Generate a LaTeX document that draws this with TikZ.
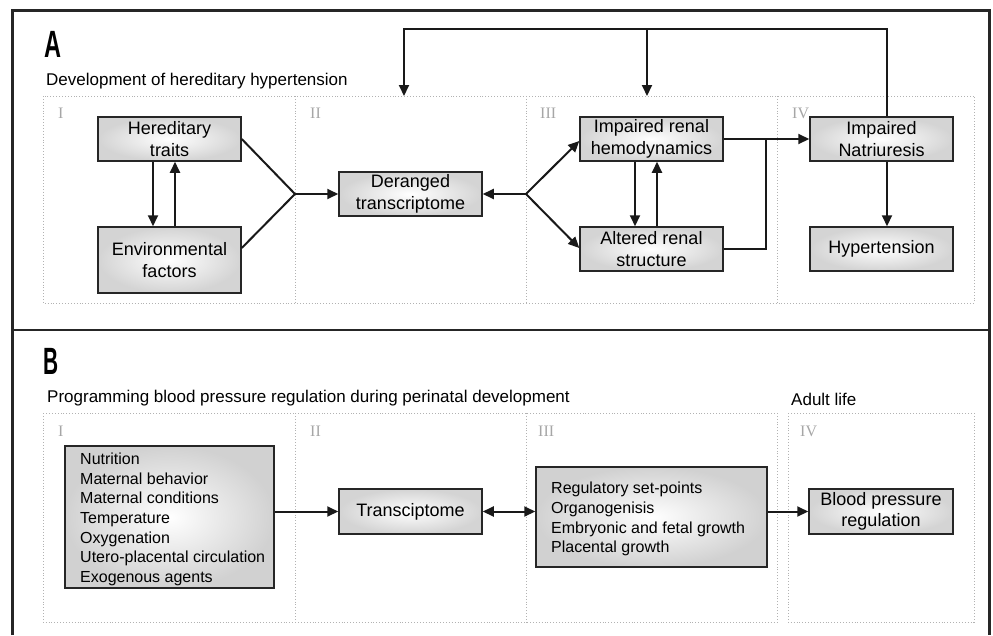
\documentclass[tikz,border=0pt]{standalone}
\usepackage{fontspec}
\setmainfont{Liberation Sans}
\newfontfamily\romfont{Liberation Serif}
\usetikzlibrary{arrows.meta,calc}
\begin{document}
\begin{tikzpicture}[x=1pt,y=-1pt,
  box/.style={draw=black!85, line width=1.5pt, inner color=white, outer color=black!17,
    minimum width=143pt, minimum height=44pt, align=center,
    font=\fontsize{18}{21.5}\selectfont, inner sep=2pt},
  listbox/.style={draw=black!85, line width=1.5pt, inner color=white, outer color=black!18,
    inner sep=0pt},
  listtext/.style={align=left, font=\fontsize{16}{19.7}\selectfont, inner sep=0pt, anchor=north west},
  conn/.style={line width=2pt, draw=black!90},
  arr/.style={conn, -{Triangle[length=11pt,width=10pt]}},
  darr/.style={conn, {Triangle[length=11pt,width=10pt]}-{Triangle[length=11pt,width=10pt]}},
  zone/.style={draw=black!30, dotted, line width=0.9pt},
  roman/.style={text=black!35, font=\romfont\fontsize{16}{16}\selectfont, anchor=base west, inner sep=0pt},
  title/.style={anchor=base west, inner sep=0pt, font=\fontsize{17}{17}\selectfont},
  panel/.style={anchor=base west, inner sep=0pt, font=\bfseries\fontsize{38}{38}\selectfont}
  ]
\useasboundingbox (0,0) rectangle (993,635);
% outer frame
\draw[line width=3pt, black!85] (12,635) -- (12,10) -- (989,10) -- (989,635);
\draw[line width=2.5pt, black!85] (12,330) -- (989,330);

% ---------- Panel A ----------
\node[panel] (la) at (44,57) {\scalebox{0.62}[1]{A}};
\node[title] (ta) at (46,85) {Development of hereditary hypertension};
\draw[zone] (43,96) rectangle (974,303);
\draw[zone] (295,96) -- (295,303);
\draw[zone] (526,96) -- (526,303);
\draw[zone] (777,96) -- (777,303);
\node[roman] (ra1) at (58,118) {I};
\node[roman] (ra2) at (310,118) {II};
\node[roman] (ra3) at (540,118) {III};
\node[roman] (ra4) at (792,118) {IV};

\node[box] (ht) at (169.5,139) {Hereditary\\traits};
\node[box, minimum height=66pt] (ef) at (169.5,260) {Environmental\\factors};
\node[box] (dt) at (410.5,194) {Deranged\\transcriptome};
\node[box] (rh) at (651.5,139) {Impaired renal\\hemodynamics};
\node[box] (rs) at (651.5,249) {Altered renal\\structure};
\node[box] (in) at (881.5,139) {Impaired\\Natriuresis};
\node[box] (hy) at (881.5,249) {Hypertension};

\coordinate (j1) at (295,194);
\coordinate (j2) at (526,194);
\coordinate (k1) at (766,249);
\coordinate (k2) at (766,139);
\coordinate (fbA) at (887,29);
\coordinate (fbB) at (404,29);
\coordinate (fbC) at (404,96);
\coordinate (fbD) at (647,29);
\coordinate (fbE) at (647,96);

\draw[arr] ([xshift=-16.5pt]ht.south) -- ([xshift=-16.5pt]ef.north);
\draw[arr] ([xshift=5.5pt]ef.north) -- ([xshift=5.5pt]ht.south);
\draw[conn] (ht.east) -- (j1);
\draw[conn] ([yshift=12pt]ef.east) -- (j1);
\draw[arr] (j1) -- (dt.west);
\draw[arr] (j2) -- (dt.east);
\draw[arr] (j2) -- ([yshift=-2pt]rh.west);
\draw[arr] (j2) -- ([yshift=1pt]rs.west);
\draw[arr] ([xshift=-16.5pt]rh.south) -- ([xshift=-16.5pt]rs.north);
\draw[arr] ([xshift=5.5pt]rs.north) -- ([xshift=5.5pt]rh.south);
\draw[arr] (rh.east) -- (in.west);
\draw[conn] (rs.east) -- (k1) -- (k2);
\draw[arr] ([xshift=5.5pt]in.south) -- ([xshift=5.5pt]hy.north);
\draw[arr] ([xshift=5.5pt]in.north) -- ([xshift=5.5pt]in.north |- fbA) -- (fbB) -- (fbC);
\draw[arr] (fbD) -- (fbE);

% ---------- Panel B ----------
\node[panel] (lb) at (43,374) {\scalebox{0.55}[1]{B}};
\node[title] (tb) at (47,402) {Programming blood pressure regulation during perinatal development};
\node[title] (tc) at (791,405) {Adult life};
\draw[zone] (43,413) rectangle (777,622);
\draw[zone] (295,413) -- (295,622);
\draw[zone] (526,413) -- (526,622);
\draw[zone] (788,413) rectangle (974,622);
\node[roman] (rb1) at (58,436) {I};
\node[roman] (rb2) at (310,436) {II};
\node[roman] (rb3) at (538,436) {III};
\node[roman] (rb4) at (800,436) {IV};

\node[listbox, minimum width=209pt, minimum height=142pt] (fl) at (169.5,517) {};
\node[listtext] (flt) at (80,452.5)
  {Nutrition\\Maternal behavior\\Maternal conditions\\Temperature\\Oxygenation\\Utero-placental circulation\\Exogenous agents};
\node[box, minimum height=45pt] (tr) at (410.5,511.5) {Transciptome};
\node[listbox, minimum width=231pt, minimum height=100pt] (rg) at (651.5,517) {};
\node[listtext] (rgt) at (551,482)
  {Regulatory set-points\\Organogenisis\\Embryonic and fetal growth\\Placental growth};
\node[box, minimum width=144pt, minimum height=45pt] (bp) at (881,511.5) {Blood pressure\\regulation};

\draw[arr] (fl.east |- tr.west) -- (tr.west);
\draw[darr] (tr.east) -- (rg.west |- tr.east);
\draw[arr] (rg.east |- bp.west) -- (bp.west);
\end{tikzpicture}
\end{document}
